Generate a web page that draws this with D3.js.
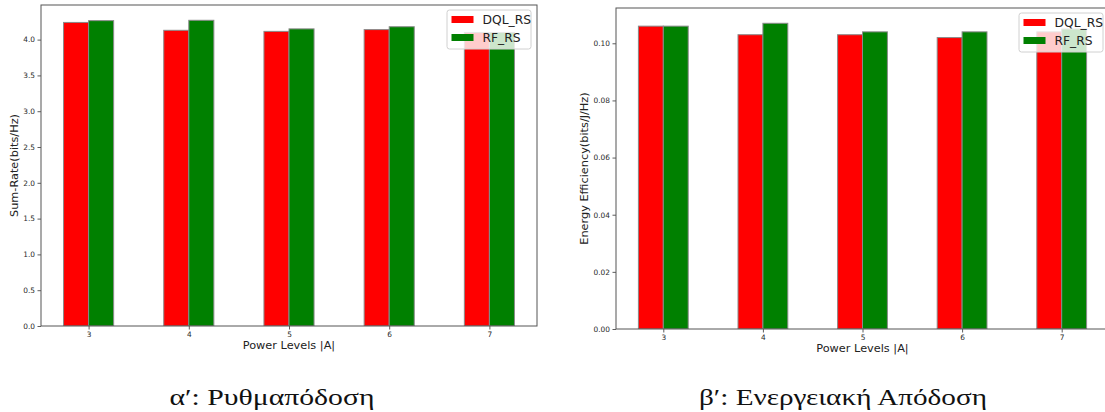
<!DOCTYPE html>
<html>
<head>
<meta charset="utf-8">
<script src="https://cdn.jsdelivr.net/npm/d3@7"></script>
<style>
  html, body { margin: 0; padding: 0; background: #fff; }
  svg { display: block; }
</style>
</head>
<body>
<svg id="fig" width="1105" height="412"></svg>
<script>
// Power levels on the x axis
const powerLevels = [3, 4, 5, 6, 7];
const seriesNames = ["DQL_RS", "RF_RS"];
const seriesColors = ["#ff0000", "#008000"];

// Sum-rate (bits/Hz) per power level
const sumRateDQL = [4.24, 4.13, 4.115, 4.14, 4.10];
const sumRateRF  = [4.265, 4.27, 4.15, 4.18, 4.10];

// Energy efficiency (bits/J/Hz) per power level
const energyDQL = [0.106, 0.103, 0.103, 0.102, 0.104];
const energyRF  = [0.106, 0.107, 0.104, 0.104, 0.105];

// Tick labels
const sumRateTicks = [0, 0.5, 1.0, 1.5, 2.0, 2.5, 3.0, 3.5, 4.0];
const energyTicks  = [0, 0.02, 0.04, 0.06, 0.08, 0.10];

const captions = ["α′: Ρυθμαπόδοση", "β′: Ενεργειακή Απόδοση"];

const svg = d3.select("#fig");
const barWidth = 0.25;

function drawPanel(opt) {
  const g = svg.append("g");
  const x = d3.scaleLinear()
    .domain([powerLevels[0] - barWidth - 0.225, powerLevels[powerLevels.length - 1] + barWidth + 0.225])
    .range([opt.left, opt.right]);
  const yMax = 1.05 * d3.max(opt.series.flat());
  const y = d3.scaleLinear().domain([0, yMax]).range([opt.bottom, opt.top]);

  // clip region for the plotting area
  const clipId = "clip" + opt.id;
  svg.append("clipPath").attr("id", clipId)
    .append("rect")
    .attr("x", opt.left).attr("y", opt.top)
    .attr("width", opt.right - opt.left).attr("height", opt.bottom - opt.top);

  const plot = g.append("g").attr("clip-path", `url(#${clipId})`);

  opt.series.forEach((vals, si) => {
    plot.selectAll(null)
      .data(powerLevels.map((p, i) => ({ p, v: vals[i] })))
      .join("rect")
      .attr("x", d => x(d.p + (si === 0 ? -barWidth : 0)))
      .attr("width", d => x(d.p + barWidth) - x(d.p))
      .attr("y", d => y(d.v))
      .attr("height", d => y(0) - y(d.v))
      .attr("fill", seriesColors[si])
      .attr("stroke", "#8a8a8a")
      .attr("stroke-width", 1);
  });

  // axes
  const xAxis = d3.axisBottom(x).tickValues(powerLevels).tickSize(3.5).tickPadding(2)
    .tickFormat(d3.format("d"));
  const yAxis = d3.axisLeft(y).tickValues(opt.ticks).tickSize(3.5).tickPadding(2.5)
    .tickFormat(d3.format(opt.fmt));

  const gx = g.append("g").attr("transform", `translate(0,${opt.bottom})`).call(xAxis);
  const gy = g.append("g").attr("transform", `translate(${opt.left},0)`).call(yAxis);
  [gx, gy].forEach(a => {
    a.select(".domain").remove();
    a.selectAll(".tick line").attr("stroke", "#333").attr("stroke-width", 0.8);
    a.selectAll(".tick text")
      .attr("font-family", "DejaVu Sans")
      .attr("font-size", 7.4)
      .attr("fill", "#2a2a2a");
  });

  // frame
  g.append("rect")
    .attr("x", opt.left).attr("y", opt.top)
    .attr("width", opt.right - opt.left).attr("height", opt.bottom - opt.top)
    .attr("fill", "none").attr("stroke", "#555").attr("stroke-width", 1);

  // axis titles
  g.append("text")
    .attr("x", (opt.left + opt.right) / 2).attr("y", opt.bottom + 23)
    .attr("text-anchor", "middle")
    .attr("font-family", "DejaVu Sans").attr("font-size", 11.3).attr("fill", "#222")
    .text("Power Levels |A|");
  g.append("text")
    .attr("transform", `translate(${opt.ylabelX},${(opt.top + opt.bottom) / 2}) rotate(-90)`)
    .attr("text-anchor", "middle").attr("dominant-baseline", "middle")
    .attr("font-family", "DejaVu Sans").attr("font-size", 11.3).attr("fill", "#222")
    .text(opt.ylabel);

  // legend
  const lg = g.append("g").attr("transform", `translate(${opt.legendX},${opt.legendY})`);
  lg.append("rect")
    .attr("width", 84).attr("height", 39).attr("rx", 2.5)
    .attr("fill", "rgba(255,255,255,0.8)")
    .attr("stroke", "#d0d0d0").attr("stroke-width", 1);
  seriesNames.forEach((name, i) => {
    const cy = 9.5 + i * 18;
    lg.append("rect")
      .attr("x", 4.5).attr("y", cy - 3.5).attr("width", 22).attr("height", 7)
      .attr("fill", seriesColors[i]);
    lg.append("text")
      .attr("x", 35.5).attr("y", cy)
      .attr("dominant-baseline", "central")
      .attr("font-family", "DejaVu Sans").attr("font-size", 12.3).attr("fill", "#222")
      .text(name);
  });

  // caption
  svg.append("text")
    .attr("x", opt.captionX).attr("y", 405)
    .attr("text-anchor", "middle")
    .attr("font-family", "Liberation Serif").attr("font-size", 23).attr("fill", "#111")
    .attr("textLength", opt.captionWidth)
    .attr("lengthAdjust", "spacingAndGlyphs")
    .text(opt.caption);
}

drawPanel({
  id: "a", left: 41, right: 537, top: 5, bottom: 326,
  series: [sumRateDQL, sumRateRF], ticks: sumRateTicks, fmt: ".1f",
  ylabel: "Sum-Rate(bits/Hz)", ylabelX: 15,
  legendX: 447, legendY: 10, caption: captions[0], captionX: 272, captionWidth: 205
});

drawPanel({
  id: "b", left: 616, right: 1109, top: 8, bottom: 329,
  series: [energyDQL, energyRF], ticks: energyTicks, fmt: ".2f",
  ylabel: "Energy Efficiency(bits/J/Hz)", ylabelX: 585,
  legendX: 1019, legendY: 13, caption: captions[1], captionX: 843, captionWidth: 288
});
</script>
</body>
</html>
